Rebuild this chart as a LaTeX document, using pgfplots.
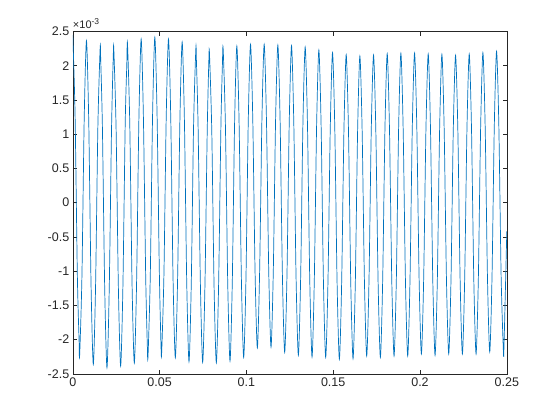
\documentclass[border=0pt]{standalone}
\usepackage{fontspec}
\setmainfont{Liberation Sans}
\usepackage{pgfplots}
\pgfplotsset{compat=1.18}
\definecolor{mblue}{rgb}{0,0.447,0.741}
\definecolor{maxis}{rgb}{0.15,0.15,0.15}
\begin{document}
\begin{tikzpicture}
\path[use as bounding box] (-72.8bp,-46.2bp) rectangle (487.2bp,373.8bp);
\begin{axis}[
  at={(0,0)}, anchor=south west,
  scale only axis, width=434bp, height=342.3bp,
  xmin=0, xmax=0.25, ymin=-0.0025, ymax=0.0025,
  xtick={0,0.05,0.1,0.15,0.2,0.25},
  xticklabels={0,0.05,0.1,0.15,0.2,0.25},
  ytick={-0.0025,-0.002,-0.0015,-0.001,-0.0005,0,0.0005,0.001,0.0015,0.002,0.0025},
  yticklabels={-2.5,-2,-1.5,-1,-0.5,0,0.5,1,1.5,2,2.5},
  scaled ticks=false,
  tick pos=both, tick align=inside,
  major tick length=4.3bp,
  every tick/.style={maxis, line width=0.5bp},
  axis line style={maxis, line width=0.6bp},
  tick label style={font=\fontsize{12.5bp}{15bp}\selectfont, text=maxis},
  clip mode=individual,
]
\addplot[mblue, line width=0.7bp, smooth, tension=0.45] coordinates {
(0,2.45e-3) (0.0013124,1.2785e-3) (0.0026248,-1.0645e-3) (0.0036,-2.0e-3) (0.0039372,-2.236e-3)
(0.0052496,-1.086e-3) (0.006562,1.215e-3) (0.0078744,2.365e-3) (0.0091868,1.183e-3) (0.0104992,-1.180e-3)
(0.0118116,-2.362e-3) (0.013124,-1.207e-3) (0.0144364,1.103e-3) (0.0157488,2.258e-3) (0.0161,2.07e-3)
(0.0170612,1.0905e-3) (0.0183736,-1.2445e-3) (0.019686,-2.412e-3) (0.0209984,-1.249e-3) (0.0223108,1.076e-3)
(0.0233,2.13e-3) (0.0236232,2.239e-3) (0.0249356,1.0825e-3) (0.026248,-1.2305e-3) (0.0275604,-2.387e-3)
(0.0288728,-1.2085e-3) (0.0301852,1.1485e-3) (0.0311,2.01e-3) (0.0314976,2.327e-3) (0.03281,1.1595e-3)
(0.0341224,-1.1755e-3) (0.0354348,-2.343e-3) (0.0367472,-1.160e-3) (0.0380596,1.207e-3) (0.039372,2.39e-3)
(0.0406844,1.230e-3) (0.0419968,-1.091e-3) (0.0429,-2.06e-3) (0.0433092,-2.251e-3) (0.0446216,-1.0845e-3)
(0.045934,1.2485e-3) (0.0472464,2.415e-3) (0.0485588,1.263e-3) (0.0498712,-1.041e-3) (0.0508,-2.08e-3)
(0.0511836,-2.193e-3) (0.052496,-1.047e-3) (0.0538084,1.244e-3) (0.0551208,2.39e-3) (0.0564332,1.226e-3)
(0.0577456,-1.102e-3) (0.059058,-2.266e-3) (0.0603704,-1.113e-3) (0.0616828,1.193e-3) (0.0629952,2.346e-3)
(0.0643076,1.1785e-3) (0.06562,-1.1565e-3) (0.0669324,-2.324e-3) (0.0682448,-1.181e-3) (0.0695572,1.105e-3)
(0.0708696,2.248e-3) (0.0712,2.08e-3) (0.072182,1.103e-3) (0.0734944,-1.188e-3) (0.0748068,-2.333e-3)
(0.0761192,-1.207e-3) (0.0774316,1.044e-3) (0.0784,2.11e-3) (0.078744,2.17e-3) (0.0800564,1.043e-3)
(0.0813688,-1.212e-3) (0.0826812,-2.339e-3) (0.0839936,-1.193e-3) (0.085306,1.098e-3) (0.0862,2.04e-3)
(0.0866184,2.244e-3) (0.0879308,1.1045e-3) (0.0892432,-1.1745e-3) (0.0905556,-2.314e-3) (0.091868,-1.164e-3)
(0.0931804,1.137e-3) (0.0944928,2.287e-3) (0.0958052,1.150e-3) (0.0971176,-1.123e-3) (0.09843,-2.26e-3)
(0.0997424,-1.117e-3) (0.1010548,1.169e-3) (0.1023672,2.312e-3) (0.1036796,1.204e-3) (0.104992,-1.012e-3)
(0.1063044,-2.12e-3) (0.1076168,-1.012e-3) (0.1089292,1.204e-3) (0.1102416,2.312e-3) (0.111554,1.2065e-3)
(0.1128664,-1.0045e-3) (0.1141788,-2.11e-3) (0.1154912,-1.007e-3) (0.1168036,1.199e-3) (0.118116,2.302e-3)
(0.1194284,1.180e-3) (0.1207408,-1.065e-3) (0.1220532,-2.187e-3) (0.1233656,-1.067e-3) (0.124678,1.172e-3)
(0.1259904,2.292e-3) (0.1273028,1.161e-3) (0.1286152,-1.100e-3) (0.1299276,-2.231e-3) (0.13124,-1.105e-3)
(0.1325524,1.147e-3) (0.1338648,2.273e-3) (0.1351772,1.141e-3) (0.1364896,-1.124e-3) (0.137802,-2.256e-3)
(0.1391144,-1.135e-3) (0.1404268,1.108e-3) (0.1417392,2.229e-3) (0.1430516,1.107e-3) (0.144364,-1.138e-3)
(0.1456764,-2.26e-3) (0.1469888,-1.1475e-3) (0.1483012,1.0775e-3) (0.1496136,2.19e-3) (0.150926,1.070e-3)
(0.1522384,-1.169e-3) (0.1535508,-2.289e-3) (0.1548632,-1.177e-3) (0.1561756,1.048e-3) (0.157488,2.16e-3)
(0.1588004,1.05e-3) (0.1601128,-1.17e-3) (0.1614252,-2.28e-3) (0.1627376,-1.175e-3) (0.16405,1.036e-3)
(0.1653624,2.141e-3) (0.1666748,1.046e-3) (0.1679872,-1.145e-3) (0.1692996,-2.24e-3) (0.170612,-1.141e-3)
(0.1719244,1.057e-3) (0.1732368,2.156e-3) (0.1745492,1.052e-3) (0.1758616,-1.156e-3) (0.177174,-2.26e-3)
(0.1784864,-1.151e-3) (0.1797988,1.066e-3) (0.1811112,2.175e-3) (0.1824236,1.071e-3) (0.183736,-1.136e-3)
(0.1850484,-2.24e-3) (0.1863608,-1.135e-3) (0.1876732,1.076e-3) (0.1889856,2.181e-3) (0.190298,1.076e-3)
(0.1916104,-1.135e-3) (0.1929228,-2.24e-3) (0.1942352,-1.134e-3) (0.1955476,1.079e-3) (0.19686,2.185e-3)
(0.1981724,1.086e-3) (0.1994848,-1.111e-3) (0.2007972,-2.21e-3) (0.2021096,-1.115e-3) (0.203422,1.076e-3)
(0.2047344,2.171e-3) (0.2060468,1.071e-3) (0.2073592,-1.130e-3) (0.2086716,-2.23e-3) (0.209984,-1.131e-3)
(0.2112964,1.067e-3) (0.2126088,2.166e-3) (0.2139212,1.072e-3) (0.2152336,-1.116e-3) (0.216546,-2.21e-3)
(0.2178584,-1.1195e-3) (0.2191708,1.0615e-3) (0.2204832,2.152e-3) (0.2217956,1.0615e-3) (0.223108,-1.1195e-3)
(0.2244204,-2.21e-3) (0.2257328,-1.115e-3) (0.2270452,1.076e-3) (0.2283576,2.171e-3) (0.22967,1.076e-3)
(0.2309824,-1.115e-3) (0.2322948,-2.21e-3) (0.2336072,-1.11e-3) (0.2349196,1.09e-3) (0.236232,2.19e-3)
(0.2375444,1.0975e-3) (0.2388568,-1.0875e-3) (0.2401692,-2.18e-3) (0.2414816,-1.0825e-3) (0.242794,1.1125e-3)
(0.2441064,2.21e-3) (0.2454188,1.115e-3) (0.2467312,-1.075e-3) (0.2480436,-2.17e-3) (0.2484,-2.08e-3)
(0.25,-0.42e-3)
};
\node[anchor=south west, inner sep=0pt, text=maxis, font=\fontsize{11bp}{13bp}\selectfont]
  at (rel axis cs:0,1) [yshift=3bp] {×10\raisebox{0.55ex}{\fontsize{8.5bp}{10bp}\selectfont -3}};
\end{axis}
\end{tikzpicture}
\end{document}
